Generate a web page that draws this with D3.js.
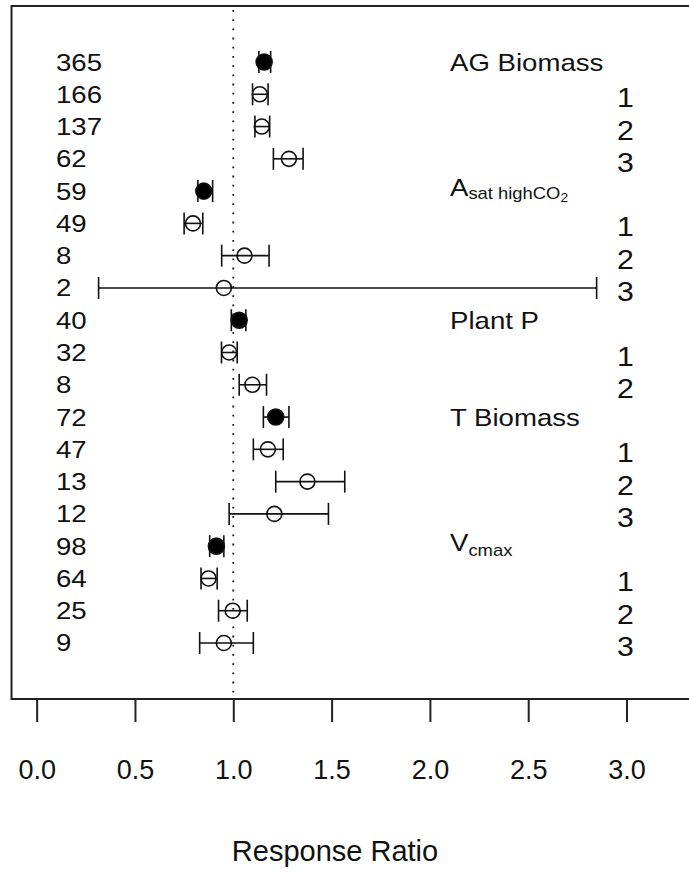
<!DOCTYPE html>
<html>
<head>
<meta charset="utf-8">
<script src="https://cdn.jsdelivr.net/npm/d3@7"></script>
<style>
  html, body { margin: 0; padding: 0; background: #fff; }
  svg { display: block; font-family: "Liberation Sans", Arial, sans-serif; }
</style>
</head>
<body>
<svg id="chart" width="689" height="874"></svg>
<script>
// Sample sizes shown on the left, top to bottom
const sampleSizes = [365, 166, 137, 62, 59, 49, 8, 2, 40, 32, 8, 72, 47, 13, 12, 98, 64, 25, 9];
// Mean response ratio and 95% CI bounds, top to bottom
const means = [1.157, 1.135, 1.145, 1.283, 0.850, 0.795, 1.057, 0.952, 1.030, 0.979, 1.097, 1.216, 1.176, 1.377, 1.209, 0.914, 0.874, 0.997, 0.952];
const lower = [1.130, 1.098, 1.110, 1.204, 0.820, 0.750, 0.941, 0.315, 0.990, 0.940, 1.030, 1.153, 1.102, 1.216, 0.979, 0.880, 0.836, 0.925, 0.829];
const upper = [1.190, 1.177, 1.185, 1.355, 0.895, 0.845, 1.182, 2.848, 1.064, 1.020, 1.169, 1.283, 1.254, 1.567, 1.484, 0.952, 0.918, 1.071, 1.102];
// Overall estimate (filled) vs. subgroup (open)
const overall = [true, false, false, false, true, false, false, false, true, false, false, true, false, false, false, true, false, false, false];
// Subgroup numbers on the right ("" for overall rows)
const groupLabels = ["", "1", "2", "3", "", "1", "2", "3", "", "1", "2", "", "1", "2", "3", "", "1", "2", "3"];
// Response variable names and the row each one sits on
const variableNames = ["AG Biomass", "Asat", "Plant P", "T Biomass", "Vcmax"];
const variableRows = [0, 4, 8, 11, 15];
// X axis ticks
const xTicks = [0.0, 0.5, 1.0, 1.5, 2.0, 2.5, 3.0];
const xTitle = "Response Ratio";

const svg = d3.select("#chart");
const box = { left: 11.5, top: 6, right: 691, bottom: 699 };
const n = sampleSizes.length;
const stretch = 1.15; // horizontal widening of the in-plot labels

const x = d3.scaleLinear().domain([-0.128, 3.328]).range([box.left, box.right]);
// row position counted from the bottom (1 = last row)
const y = d3.scaleLinear().domain([-0.735, 20.735]).range([box.bottom, box.top]);
const rowY = i => y(n - i);

const rows = d3.range(n).map(i => ({
  i, n: sampleSizes[i], m: means[i], lo: lower[i], hi: upper[i], fill: overall[i], g: groupLabels[i]
}));

// reference line at ratio = 1
svg.append("line")
  .attr("x1", x(1)).attr("x2", x(1))
  .attr("y1", box.top + 4).attr("y2", box.bottom)
  .attr("stroke", "#111").attr("stroke-width", 1.8)
  .attr("stroke-dasharray", "1.8,7.4");

// confidence intervals
const cap = 11;
const eb = svg.append("g").attr("stroke", "#111").attr("stroke-width", 1.6).attr("fill", "none");
rows.forEach(d => {
  const yy = rowY(d.i);
  eb.append("line").attr("x1", x(d.lo)).attr("x2", x(d.hi)).attr("y1", yy).attr("y2", yy);
  eb.append("line").attr("x1", x(d.lo)).attr("x2", x(d.lo)).attr("y1", yy - cap).attr("y2", yy + cap);
  eb.append("line").attr("x1", x(d.hi)).attr("x2", x(d.hi)).attr("y1", yy - cap).attr("y2", yy + cap);
});

// point estimates
svg.append("g").selectAll("circle").data(rows).join("circle")
  .attr("cx", d => x(d.m)).attr("cy", d => rowY(d.i))
  .attr("r", d => d.fill ? 8 : 7.5)
  .attr("fill", d => d.fill ? "#000" : "none")
  .attr("stroke", "#111").attr("stroke-width", 1.6);

// sample sizes
svg.append("g").selectAll("text").data(rows).join("text")
  .attr("transform", d => `translate(56,${rowY(d.i) + 8.5}) scale(${stretch},1)`)
  .attr("font-size", 24).attr("fill", "#111")
  .text(d => d.n);

// subgroup numbers
svg.append("g").selectAll("text").data(rows.filter(d => d.g)).join("text")
  .attr("transform", d => `translate(625.5,${rowY(d.i) + 13}) scale(1.08,1)`)
  .attr("text-anchor", "middle")
  .attr("font-size", 28).attr("fill", "#111")
  .text(d => d.g);

// variable names
const lab = svg.append("g").attr("font-size", 24).attr("fill", "#111");
variableNames.forEach((name, k) => {
  let yy = rowY(variableRows[k]) + 8.5;
  const t = lab.append("text");
  if (name === "Asat") {
    yy -= 4;
    t.append("tspan").text("A");
    t.append("tspan").attr("font-size", 16).attr("dy", 3).text("sat highCO");
    t.append("tspan").attr("font-size", 12).attr("dy", 3).text("2");
  } else if (name === "Vcmax") {
    yy -= 4;
    t.append("tspan").text("V");
    t.append("tspan").attr("font-size", 16).attr("dy", 5).text("cmax");
  } else {
    t.text(name);
  }
  t.attr("transform", `translate(450,${yy}) scale(${stretch},1)`);
});

// plot frame
svg.append("path")
  .attr("d", `M${box.right},${box.top}H${box.left}V${box.bottom}H${box.right}`)
  .attr("fill", "none").attr("stroke", "#222").attr("stroke-width", 2);

// x axis
const axis = d3.axisBottom(x).tickValues(xTicks).tickSize(23).tickPadding(38)
  .tickFormat(d3.format(".1f"));
const ax = svg.append("g").attr("transform", `translate(0,${box.bottom})`).call(axis);
ax.select(".domain").remove();
ax.selectAll(".tick line").attr("stroke", "#222").attr("stroke-width", 2);
ax.selectAll(".tick text").attr("font-size", 27).attr("fill", "#111")
  .attr("font-family", "'Liberation Sans', Arial, sans-serif");

svg.append("text")
  .attr("x", 335).attr("y", 861)
  .attr("text-anchor", "middle")
  .attr("font-size", 29).attr("fill", "#111")
  .text(xTitle);
</script>
</body>
</html>
